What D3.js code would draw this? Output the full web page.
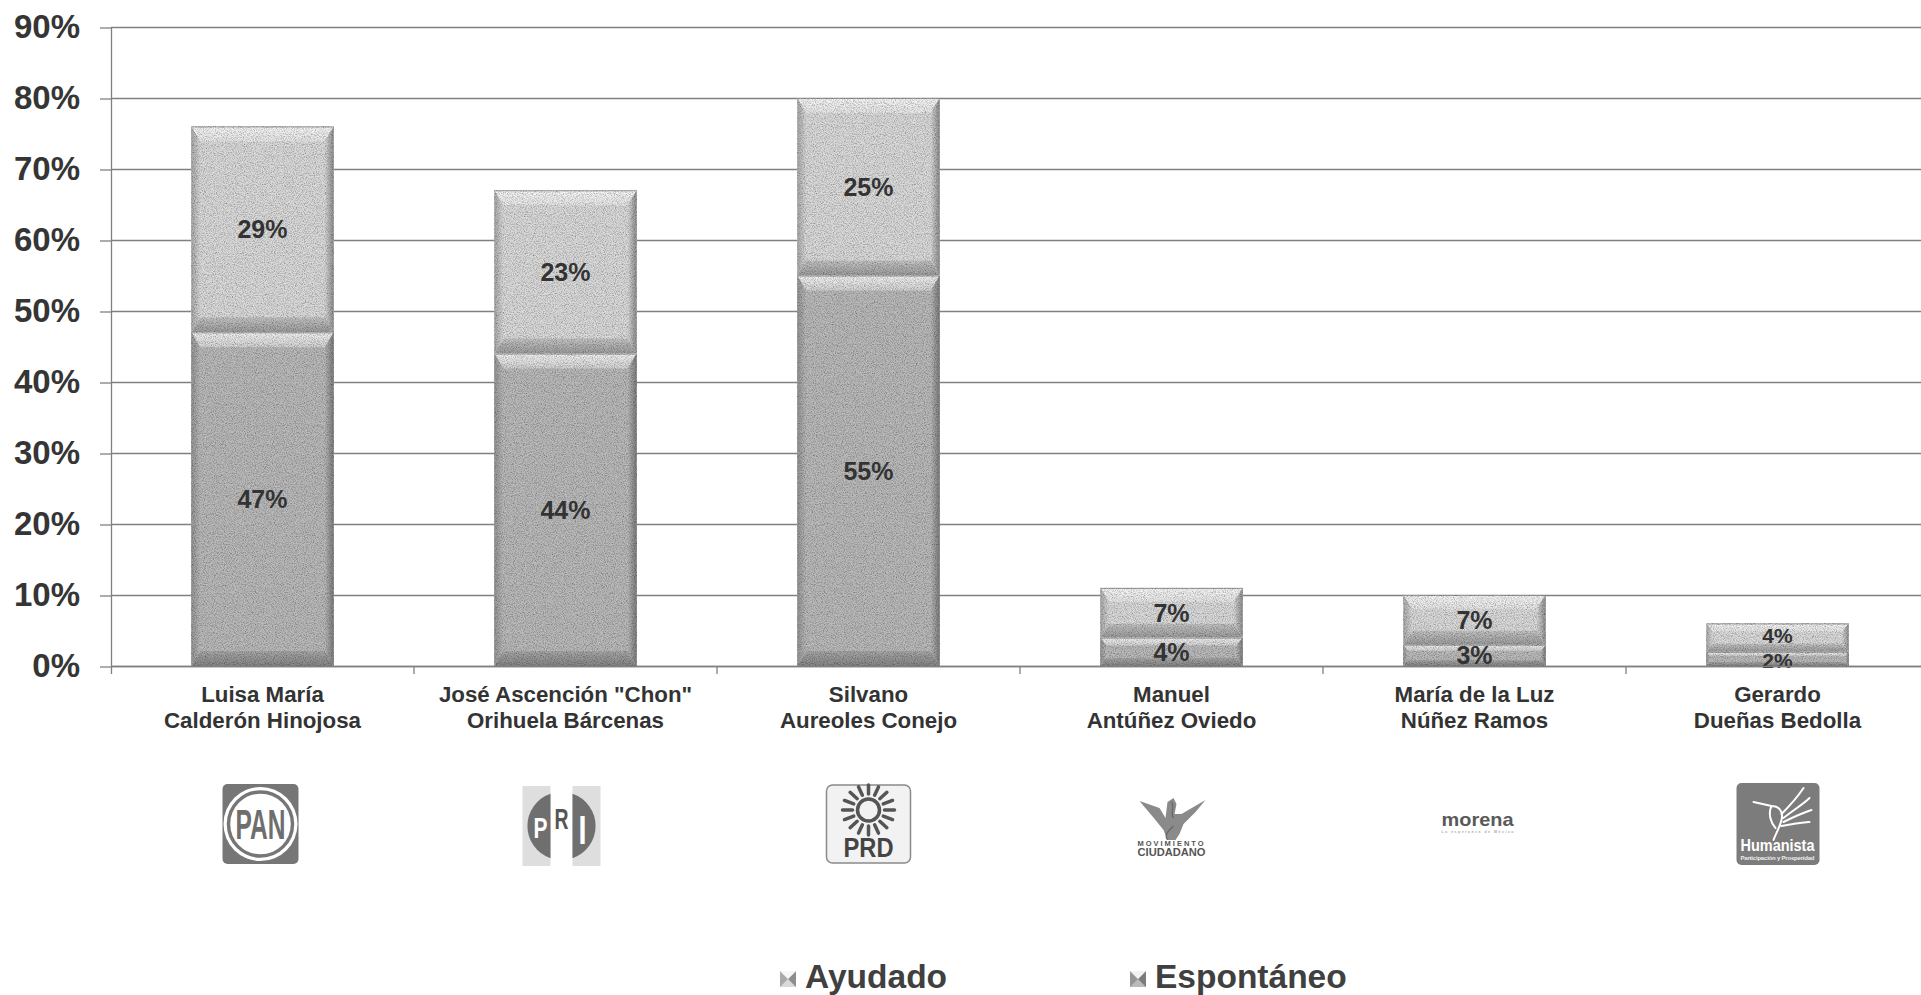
<!DOCTYPE html>
<html>
<head>
<meta charset="utf-8">
<script src="https://cdn.jsdelivr.net/npm/d3@7"></script>
<style>
  html, body { margin: 0; padding: 0; background: #ffffff; }
  svg { display: block; }
  text { font-family: "Liberation Sans", Arial, sans-serif; font-weight: bold; }
</style>
</head>
<body>
<svg id="chart" width="1921" height="995"></svg>
<script>
// ---------------- DATA ----------------
const categories = [
  "Luisa María|Calderón Hinojosa",
  "José Ascención \"Chon\"|Orihuela Bárcenas",
  "Silvano|Aureoles Conejo",
  "Manuel|Antúñez Oviedo",
  "María de la Luz|Núñez Ramos",
  "Gerardo|Dueñas Bedolla"
];
const espontaneo = [47, 44, 55, 4, 3, 2];
const ayudado    = [29, 23, 25, 7, 7, 4];
const yTickValues = [0, 10, 20, 30, 40, 50, 60, 70, 80, 90];
const seriesNames = ["Espontáneo", "Ayudado"];
const legendOrder = ["Ayudado", "Espontáneo"];
const parties = ["PAN", "PRI", "PRD", "MC", "MORENA", "HUMANISTA"];

// ---------------- LAYOUT ----------------
const svg = d3.select("#chart");
const W = 1921;
const left = 111, yBottom = 666, yTop = 27, step = 303;

const x = d3.scaleBand()
  .domain(categories)
  .range([left, left + step * categories.length])
  .paddingInner(0.53)
  .paddingOuter(0.265);
const y = d3.scaleLinear().domain([0, 90]).range([yBottom, yTop]);

const rows = categories.map((c, i) => ({ cat: c, "Espontáneo": espontaneo[i], "Ayudado": ayudado[i] }));
const stacked = d3.stack().keys(seriesNames)(rows);

// ---------------- DEFS ----------------
const defs = svg.append("defs");
const grain = defs.append("filter").attr("id", "grain")
  .attr("filterUnits", "userSpaceOnUse")
  .attr("x", 0).attr("y", 0).attr("width", W).attr("height", 995);
grain.append("feTurbulence").attr("type", "fractalNoise").attr("baseFrequency", 0.9)
  .attr("numOctaves", 2).attr("seed", 7).attr("result", "noise");
grain.append("feColorMatrix").attr("in", "noise").attr("type", "matrix")
  .attr("values", "0 0 0 0 0  0 0 0 0 0  0 0 0 0 0  1.3 0 0 0 -0.5").attr("result", "dark");
grain.append("feComposite").attr("in", "dark").attr("in2", "SourceAlpha").attr("operator", "in").attr("result", "darkIn");
const fm = grain.append("feMerge");
fm.append("feMergeNode").attr("in", "SourceGraphic");
fm.append("feMergeNode").attr("in", "darkIn");

const palette = {
  "Ayudado":    { mid: "#dadada", top0: "#f6f6f6", top1: "#e6e6e6", bot0: "#c4c4c4", bot1: "#9c9c9c", sideL: "#a9a9a9", sideR: "#8e8e8e" },
  "Espontáneo": { mid: "#bababa", top0: "#f2f2f2", top1: "#d2d2d2", bot0: "#a8a8a8", bot1: "#858585", sideL: "#959595", sideR: "#7c7c7c" }
};
function grad(id, x1, y1, x2, y2, c0, c1) {
  const g = defs.append("linearGradient").attr("id", id)
    .attr("x1", x1).attr("y1", y1).attr("x2", x2).attr("y2", y2);
  g.append("stop").attr("offset", "0%").attr("stop-color", c0);
  g.append("stop").attr("offset", "100%").attr("stop-color", c1);
}
seriesNames.forEach((s, i) => {
  const p = palette[s];
  grad("top" + i, 0, 0, 0, 1, p.top0, p.top1);
  grad("bot" + i, 0, 0, 0, 1, p.bot0, p.bot1);
  grad("sl" + i, 0, 0, 1, 0, p.sideL, p.mid);
  grad("sr" + i, 0, 0, 1, 0, p.mid, p.sideR);
});

// ---------------- GRID & AXES ----------------
svg.append("g").selectAll("line").data(yTickValues).join("line")
  .attr("x1", left).attr("x2", W)
  .attr("y1", d => y(d) + 0.5).attr("y2", d => y(d) + 0.5)
  .attr("stroke", "#808080").attr("stroke-width", 1.3);

const yAxis = d3.axisLeft(y).tickValues(yTickValues).tickSize(11).tickPadding(20)
  .tickFormat(d => d + "%");
const yg = svg.append("g").attr("transform", `translate(${left},0)`).call(yAxis);
yg.select(".domain").attr("stroke", "#808080").attr("stroke-width", 1.3)
  .attr("d", `M0.5,${yTop}V${yBottom + 8}`);
yg.selectAll(".tick line").attr("stroke", "#808080").attr("stroke-width", 1.3)
  .attr("transform", "translate(0,0.5)");
yg.selectAll(".tick text")
  .attr("fill", "#353535").attr("font-size", 33)
  .attr("font-family", "'Liberation Sans', Arial, sans-serif").attr("font-weight", "bold");

// category tick marks between bands
const boundaries = categories.map((c, i) => x(c) - x.step() * x.paddingInner() / 2 + x.step());
svg.append("g").selectAll("line").data(boundaries.slice(0, -1)).join("line")
  .attr("x1", d => d).attr("x2", d => d)
  .attr("y1", yBottom).attr("y2", yBottom + 8)
  .attr("stroke", "#808080").attr("stroke-width", 1.3);

// ---------------- BARS ----------------
const barsG = svg.append("g").attr("filter", "url(#grain)");
stacked.forEach((layer, si) => {
  layer.forEach((d, ci) => {
    const x0 = x(categories[ci]), w = x.bandwidth();
    const t = y(d[1]), b = y(d[0]);
    const h = b - t;
    const bt = Math.min(15, h * 0.28), bs = Math.min(9, h * 0.22);
    const g = barsG.append("g");
    g.append("rect").attr("x", x0).attr("y", t).attr("width", w).attr("height", h)
      .attr("fill", palette[seriesNames[si]].mid);
    g.append("path").attr("fill", `url(#top${si})`)
      .attr("d", `M${x0},${t}H${x0 + w}L${x0 + w - bs},${t + bt}H${x0 + bs}Z`);
    g.append("path").attr("fill", `url(#bot${si})`)
      .attr("d", `M${x0},${b}H${x0 + w}L${x0 + w - bs},${b - bt}H${x0 + bs}Z`);
    g.append("path").attr("fill", `url(#sl${si})`)
      .attr("d", `M${x0},${t}L${x0 + bs},${t + bt}V${b - bt}L${x0},${b}Z`);
    g.append("path").attr("fill", `url(#sr${si})`)
      .attr("d", `M${x0 + w},${t}L${x0 + w - bs},${t + bt}V${b - bt}L${x0 + w},${b}Z`);
    g.append("line").attr("x1", x0).attr("x2", x0 + w).attr("y1", t + 0.5).attr("y2", t + 0.5)
      .attr("stroke", "#9a9a9a").attr("stroke-width", 1);
  });
});

// value labels (shrink only where the two labels of one bar would collide)
const labG = svg.append("g");
const crowded = categories.map((c, ci) => {
  const c0 = y(stacked[0][ci][0] / 2 + stacked[0][ci][1] / 2);
  const c1 = y(stacked[1][ci][0] / 2 + stacked[1][ci][1] / 2);
  return Math.abs(c0 - c1) < 27;
});
stacked.forEach((layer, si) => {
  layer.forEach((d, ci) => {
    const small = crowded[ci];
    const fs = small ? 21 : 25;
    const nudge = small ? (si === 0 ? 2 : -2) : 0;
    labG.append("text")
      .attr("x", x(categories[ci]) + x.bandwidth() / 2)
      .attr("y", y((d[0] + d[1]) / 2) + nudge)
      .attr("dy", "0.36em")
      .attr("text-anchor", "middle")
      .attr("font-size", fs)
      .attr("fill", "#333333")
      .text((d[1] - d[0]) + "%");
  });
});

// x-axis line
svg.append("line").attr("x1", left).attr("x2", W).attr("y1", yBottom + 0.5).attr("y2", yBottom + 0.5)
  .attr("stroke", "#808080").attr("stroke-width", 1.3);

// category labels
const catG = svg.append("g");
categories.forEach(c => {
  const lines = c.split("|");
  const t = catG.append("text").attr("text-anchor", "middle").attr("font-size", 22.3).attr("fill", "#333333");
  lines.forEach((ln, i) => {
    t.append("tspan").attr("x", x(c) + x.bandwidth() / 2).attr("y", 702 + i * 25.5).text(ln);
  });
});

// ---------------- LOGOS ----------------
const logoY = 824;
function logo(i, dx, dy) {
  return svg.append("g").attr("transform", `translate(${x(categories[i]) + x.bandwidth() / 2 + (dx || 0)},${logoY + (dy || 0)})`);
}
// PAN
(function () {
  const g = logo(0, -2, 0);
  g.append("rect").attr("x", -38).attr("y", -40).attr("width", 76).attr("height", 80).attr("rx", 5).attr("fill", "#767676");
  g.append("circle").attr("r", 37).attr("fill", "#ffffff");
  g.append("circle").attr("r", 32).attr("fill", "#ffffff").attr("stroke", "#767676").attr("stroke-width", 3.5);
  g.append("text").attr("text-anchor", "middle").attr("y", 15).attr("font-size", 42)
    .attr("textLength", 50).attr("lengthAdjust", "spacingAndGlyphs")
    .attr("fill", "#6e6e6e").text("PAN");
})();
// PRI
(function () {
  const g = logo(1, -4, 2);
  g.append("rect").attr("x", -39).attr("y", -40).attr("width", 78).attr("height", 80).attr("fill", "#dedede");
  g.append("rect").attr("x", -11).attr("y", -40).attr("width", 22).attr("height", 80).attr("fill", "#ffffff");
  g.append("path").attr("fill", "#6f6f6f")
    .attr("d", "M-11,-32.2 A34,34 0 0 0 -11,32.2 Z");
  g.append("path").attr("fill", "#6f6f6f")
    .attr("d", "M11,-32.2 A34,34 0 0 1 11,32.2 Z");
  g.append("text").attr("x", -21).attr("y", 12).attr("text-anchor", "middle").attr("font-size", 30)
    .attr("textLength", 14).attr("lengthAdjust", "spacingAndGlyphs").attr("fill", "#ffffff").text("P");
  g.append("text").attr("x", 0).attr("y", 3).attr("text-anchor", "middle").attr("font-size", 30)
    .attr("textLength", 14).attr("lengthAdjust", "spacingAndGlyphs").attr("fill", "#555555").text("R");
  g.append("text").attr("x", 21).attr("y", 18).attr("text-anchor", "middle").attr("font-size", 40)
    .attr("textLength", 8).attr("lengthAdjust", "spacingAndGlyphs").attr("fill", "#ffffff").text("I");
})();
// PRD
(function () {
  const g = logo(2);
  g.append("rect").attr("x", -42).attr("y", -39).attr("width", 84).attr("height", 78).attr("rx", 6)
    .attr("fill", "#f2f2f2").attr("stroke", "#8a8a8a").attr("stroke-width", 1.5);
  g.append("circle").attr("cy", -14).attr("r", 11).attr("fill", "none").attr("stroke", "#555").attr("stroke-width", 3.5);
  d3.range(16).forEach(k => {
    const a = k * Math.PI * 2 / 16;
    g.append("line")
      .attr("x1", Math.cos(a) * 16).attr("y1", -14 + Math.sin(a) * 16)
      .attr("x2", Math.cos(a) * 26).attr("y2", -14 + Math.sin(a) * 25)
      .attr("stroke", "#555").attr("stroke-width", 3.5).attr("stroke-linecap", "round");
  });
  g.append("text").attr("text-anchor", "middle").attr("y", 33).attr("font-size", 27)
    .attr("textLength", 50).attr("lengthAdjust", "spacingAndGlyphs").attr("fill", "#444").text("PRD");
})();
// Movimiento Ciudadano
(function () {
  const g = logo(3);
  g.append("path").attr("fill", "#8a8a8a")
    .attr("d", "M-32,-23 L-12,-16 L-6,-6 L-4,-22 L2,-26 L5,-20 L3,-10 L10,-10 L34,-24 L24,-12 L12,0 L8,10 L4,16 L-4,16 L-8,6 L-16,-4 Z");
  g.append("path").attr("fill", "none").attr("stroke", "#666").attr("stroke-width", 1.2)
    .attr("d", "M-4,16 C-8,10 -2,6 2,2 M0,-22 C4,-16 -2,-12 2,-6");
  g.append("text").attr("text-anchor", "middle").attr("y", 22).attr("font-size", 7.5).attr("font-weight", "normal")
    .attr("letter-spacing", 2).attr("fill", "#555").text("MOVIMIENTO");
  g.append("text").attr("text-anchor", "middle").attr("y", 32).attr("font-size", 11).attr("font-weight", "normal")
    .attr("textLength", 68).attr("lengthAdjust", "spacingAndGlyphs").attr("fill", "#555").text("CIUDADANO");
})();
// morena
(function () {
  const g = logo(4, 3, 0);
  g.append("text").attr("text-anchor", "middle").attr("y", 2).attr("font-size", 19)
    .attr("textLength", 72).attr("lengthAdjust", "spacingAndGlyphs").attr("fill", "#5a5a5a").text("morena");
  g.append("text").attr("text-anchor", "middle").attr("y", 9).attr("font-size", 3.5).attr("font-weight", "normal")
    .attr("textLength", 72).attr("fill", "#aaa").text("La esperanza de México");
})();
// Humanista
(function () {
  const g = logo(5);
  g.append("rect").attr("x", -41).attr("y", -41).attr("width", 83).attr("height", 82).attr("rx", 5).attr("fill", "#7c7c7c");
  g.append("path").attr("fill", "none").attr("stroke", "#ffffff").attr("stroke-width", 2).attr("stroke-linecap", "round")
    .attr("d", "M-24,-22 L-6,-18 M-6,-18 C2,-18 6,-12 4,-4 C2,4 -2,10 -4,16 M-6,-18 C-10,-10 -6,0 -2,4 M4,-10 C14,-20 22,-30 26,-36 M6,-6 C16,-14 26,-20 32,-26 M6,-2 C18,-8 28,-12 34,-14 M4,2 C16,0 26,-2 32,-2");
  g.append("text").attr("text-anchor", "middle").attr("y", 27).attr("font-size", 17).attr("font-weight", "normal")
    .attr("textLength", 74).attr("lengthAdjust", "spacingAndGlyphs").attr("fill", "#ffffff").text("Humanista");
  g.append("text").attr("text-anchor", "middle").attr("y", 36).attr("font-size", 6).attr("font-weight", "normal")
    .attr("textLength", 74).attr("fill", "#eeeeee").text("Participación y Prosperidad");
})();

// ---------------- LEGEND ----------------
const legendX = { "Ayudado": 780, "Espontáneo": 1130 };
const legG = svg.append("g");
legendOrder.forEach(name => {
  const lx = legendX[name];
  const p = palette[name];
  legG.append("rect").attr("x", lx).attr("y", 971).attr("width", 16).attr("height", 16)
    .attr("fill", p.mid);
  legG.append("path").attr("fill", p.sideL).attr("d", `M${lx},${971}L${lx + 8},${979}L${lx},${987}Z`);
  legG.append("path").attr("fill", p.sideR).attr("d", `M${lx + 16},${971}L${lx + 8},${979}L${lx + 16},${987}Z`);
  legG.append("path").attr("fill", p.top0).attr("d", `M${lx},${971}H${lx + 16}L${lx + 8},${979}Z`);
  legG.append("text").attr("x", lx + 25).attr("y", 987.5).attr("font-size", 33.5)
    .attr("fill", "#404040").text(name);
});
</script>
</body>
</html>
